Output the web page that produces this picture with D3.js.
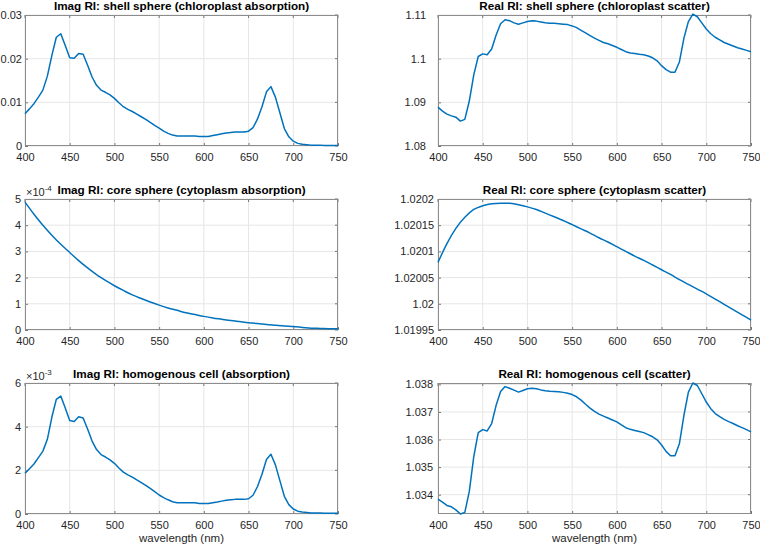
<!DOCTYPE html>
<html>
<head>
<meta charset="utf-8">
<script src="https://cdn.jsdelivr.net/npm/d3@7"></script>
<style>
  body { margin: 0; background: #fff; }
  svg { display: block; font-family: "Liberation Sans", Arial, Helvetica, sans-serif; }
</style>
</head>
<body>
<svg width="760" height="545"></svg>
<script>
// wavelengths (nm)
const wl5 = d3.range(400, 751, 5);
const wl10 = d3.range(400, 751, 10);

// Imag RI shell sphere (chloroplast absorption), every 5 nm
const shellImag = [
  0.0074, 0.0085, 0.0097, 0.0112, 0.0128, 0.0160, 0.0207, 0.0249, 0.0257, 0.0230,
  0.0202, 0.0201, 0.0212, 0.0210, 0.0185, 0.0158, 0.0139, 0.0128, 0.0123, 0.0117,
  0.0109, 0.0099, 0.0090, 0.0084, 0.0079, 0.0073, 0.0067, 0.0061, 0.0054, 0.0047,
  0.0041, 0.0034, 0.0029, 0.0025, 0.0023, 0.0023, 0.0023, 0.0023, 0.0023, 0.0022,
  0.0022, 0.0022, 0.0024, 0.0026, 0.0028, 0.0030, 0.0031, 0.0032, 0.0032, 0.0032,
  0.0034, 0.0042, 0.0062, 0.0090, 0.0124, 0.0136, 0.0112, 0.0076, 0.0040, 0.0021,
  0.0011, 0.0006, 0.0004, 0.0003, 0.0002, 0.0002, 0.0002, 0.0001, 0.0001, 0.0001,
  0.0001
];

// Real RI shell sphere (chloroplast scatter), every 5 nm
const shellReal = [
  1.0889, 1.0880, 1.0873, 1.0869, 1.0866, 1.0857, 1.0861, 1.0903, 1.0963, 1.1005,
  1.1011, 1.1009, 1.1022, 1.1054, 1.1080, 1.1089, 1.1087, 1.1082, 1.1079, 1.1082,
  1.1085, 1.1087, 1.1086, 1.1084, 1.1082, 1.1081, 1.1081, 1.1080, 1.1079, 1.1078,
  1.1075, 1.1071, 1.1065, 1.1059, 1.1053, 1.1047, 1.1042, 1.1037, 1.1034, 1.1030,
  1.1026, 1.1021, 1.1016, 1.1013, 1.1012, 1.1010, 1.1009, 1.1006, 1.1002, 1.0995,
  1.0984, 1.0975, 1.0969, 1.0969, 1.0993, 1.1047, 1.1085, 1.1102, 1.1096, 1.1082,
  1.1068, 1.1057, 1.1049, 1.1043, 1.1037, 1.1033, 1.1029, 1.1025, 1.1022, 1.1019,
  1.1016
];

// Imag RI core sphere (cytoplasm absorption), every 10 nm, x 1e-4
const coreImag = [
  4.88, 4.42, 4.00, 3.62, 3.27, 2.96, 2.65, 2.37, 2.11, 1.89,
  1.69, 1.51, 1.34, 1.20, 1.07, 0.95, 0.84, 0.75, 0.66, 0.59,
  0.52, 0.46, 0.41, 0.36, 0.32, 0.28, 0.25, 0.21, 0.18, 0.15,
  0.13, 0.10, 0.07, 0.06, 0.05, 0.05
];

// Real RI core sphere (cytoplasm scatter), every 10 nm
const coreReal = [
  1.020079, 1.020115, 1.020144, 1.020165, 1.020180, 1.020187, 1.020191, 1.020192, 1.020192, 1.020189,
  1.020185, 1.020180, 1.020173, 1.020166, 1.020159, 1.020151, 1.020143, 1.020135, 1.020126, 1.020118,
  1.020109, 1.020100, 1.020091, 1.020083, 1.020074, 1.020065, 1.020056, 1.020046, 1.020037, 1.020028,
  1.020019, 1.020009, 1.019999, 1.019989, 1.019979, 1.019969
];

// Imag RI homogenous cell (absorption), every 5 nm, x 1e-3
const cellImag = [
  1.87, 2.07, 2.29, 2.58, 2.88, 3.42, 4.43, 5.25, 5.40, 4.85,
  4.28, 4.24, 4.45, 4.40, 3.89, 3.34, 2.95, 2.72, 2.61, 2.48,
  2.32, 2.11, 1.92, 1.79, 1.69, 1.56, 1.44, 1.31, 1.17, 1.02,
  0.87, 0.75, 0.65, 0.56, 0.52, 0.52, 0.51, 0.51, 0.51, 0.48,
  0.48, 0.48, 0.52, 0.55, 0.59, 0.63, 0.65, 0.67, 0.67, 0.67,
  0.70, 0.86, 1.26, 1.82, 2.50, 2.74, 2.25, 1.53, 0.81, 0.43,
  0.23, 0.13, 0.09, 0.07, 0.05, 0.05, 0.045, 0.03, 0.03, 0.03,
  0.03
];

// Real RI homogenous cell (scatter), every 5 nm
const cellReal = [
  1.03384, 1.03373, 1.03361, 1.03356, 1.03345, 1.03330, 1.03336, 1.03412, 1.03538, 1.03625,
  1.03636, 1.03631, 1.03658, 1.03724, 1.03774, 1.03792, 1.03786, 1.03779, 1.03772, 1.03778,
  1.03784, 1.03786, 1.03784, 1.03780, 1.03777, 1.03775, 1.03774, 1.03773, 1.03771, 1.03768,
  1.03763, 1.03755, 1.03743, 1.03728, 1.03714, 1.03702, 1.03692, 1.03685, 1.03678, 1.03671,
  1.03664, 1.03653, 1.03643, 1.03637, 1.03633, 1.03629, 1.03625, 1.03618, 1.03610, 1.03599,
  1.03580, 1.03557, 1.03541, 1.03541, 1.03586, 1.03688, 1.03772, 1.03805, 1.03796, 1.03766,
  1.03736, 1.03712, 1.03694, 1.03683, 1.03673, 1.03665, 1.03658, 1.03650, 1.03643, 1.03636,
  1.03628
];

const xTicks = [400, 450, 500, 550, 600, 650, 700, 750];

const panels = [
  { title: "Imag RI: shell sphere (chloroplast absorption)", x: wl5, y: shellImag,
    domain: [0, 0.03], ticks: [0, 0.01, 0.02, 0.03], fmt: d => d === 0 ? "0" : d3.format(".2f")(d),
    col: 0, row: 0, curve: d3.curveLinear, pad: 3 },
  { title: "Real RI: shell sphere (chloroplast scatter)", x: wl5, y: shellReal,
    domain: [1.08, 1.11], ticks: [1.08, 1.09, 1.1, 1.11], fmt: d => String(+d.toFixed(2)),
    col: 1, row: 0, curve: d3.curveLinear, pad: 12 },
  { title: "Imag RI: core sphere (cytoplasm absorption)", x: wl10, y: coreImag,
    domain: [0, 5], ticks: [0, 1, 2, 3, 4, 5], fmt: d => String(d), exp: "-4",
    col: 0, row: 1, curve: d3.curveMonotoneX, pad: 4 },
  { title: "Real RI: core sphere (cytoplasm scatter)", x: wl10, y: coreReal,
    domain: [1.01995, 1.0202], ticks: [1.01995, 1.02, 1.02005, 1.0201, 1.02015, 1.0202],
    fmt: d => String(+d.toFixed(5)), col: 1, row: 1, curve: d3.curveMonotoneX, pad: 4 },
  { title: "Imag RI: homogenous cell (absorption)", x: wl5, y: cellImag,
    domain: [0, 6], ticks: [0, 2, 4, 6], fmt: d => String(d), exp: "-3",
    col: 0, row: 2, curve: d3.curveLinear, xlabel: true, pad: 4 },
  { title: "Real RI: homogenous cell (scatter)", x: wl5, y: cellReal,
    domain: [1.0333, 1.03805], ticks: [1.034, 1.035, 1.036, 1.037, 1.038],
    fmt: d => String(+d.toFixed(3)), col: 1, row: 2, curve: d3.curveLinear, xlabel: true, pad: 5 }
];

const colLeft = [25, 438];
const rowTop = [15, 199, 383];
const pw = 313, ph = 131;

const svg = d3.select("svg");
const textColor = "#262626";

panels.forEach(p => {
  const left = colLeft[p.col], top = rowTop[p.row];
  const x = d3.scaleLinear().domain([400, 750]).range([left, left + pw]);
  const y = d3.scaleLinear().domain(p.domain).range([top + ph, top]);
  const g = svg.append("g");

  // grid
  g.selectAll(".gx").data(xTicks).join("line")
    .attr("x1", d => x(d)).attr("x2", d => x(d))
    .attr("y1", top).attr("y2", top + ph)
    .attr("stroke", "#e6e6e6").attr("stroke-width", 1);
  g.selectAll(".gy").data(p.ticks).join("line")
    .attr("x1", left).attr("x2", left + pw)
    .attr("y1", d => y(d)).attr("y2", d => y(d))
    .attr("stroke", "#e6e6e6").attr("stroke-width", 1);

  // axes with inward ticks
  const xAxis = d3.axisBottom(x).tickValues(xTicks).tickSize(-3).tickPadding(7).tickFormat(d3.format("d"));
  const yAxis = d3.axisLeft(y).tickValues(p.ticks).tickSize(-3).tickPadding(p.pad).tickFormat(p.fmt);
  const xa = g.append("g").attr("transform", `translate(0,${top + ph})`).call(xAxis);
  const ya = g.append("g").attr("transform", `translate(${left},0)`).call(yAxis);
  [xa, ya].forEach(a => {
    a.select(".domain").remove();
    a.selectAll("line").attr("stroke", "#777");
    a.selectAll("text").attr("fill", textColor).style("font-size", "11px");
  });
  // y labels sit just left of the box (tick lines are inward)
  ya.selectAll("text").attr("x", -p.pad);
  // mirrored ticks on top and right
  g.selectAll(".tt").data(xTicks).join("line")
    .attr("x1", d => x(d)).attr("x2", d => x(d)).attr("y1", top).attr("y2", top + 3)
    .attr("stroke", "#777");
  g.selectAll(".tr").data(p.ticks).join("line")
    .attr("x1", left + pw - 3).attr("x2", left + pw).attr("y1", d => y(d)).attr("y2", d => y(d))
    .attr("stroke", "#777");

  // box
  g.append("rect").attr("x", left + 0.5).attr("y", top + 0.5)
    .attr("width", pw - 1).attr("height", ph - 1)
    .attr("fill", "none").attr("stroke", "#8c8c8c").attr("stroke-width", 1);

  // data line
  const line = d3.line().x((d, i) => x(p.x[i])).y(d => y(d)).curve(p.curve);
  g.append("path").datum(p.y).attr("d", line)
    .attr("fill", "none").attr("stroke", "#0072BD").attr("stroke-width", 1.5)
    .attr("stroke-linejoin", "round");

  // title
  g.append("text").attr("x", left + pw / 2).attr("y", top - 5)
    .attr("text-anchor", "middle").attr("fill", "#000")
    .style("font-size", "11.7px").style("font-weight", "bold")
    .text(p.title);

  // exponent label
  if (p.exp) {
    const t = g.append("text").attr("x", left + 1).attr("y", top - 3)
      .attr("fill", textColor).style("font-size", "11px");
    t.append("tspan").text("\u00d710");
    t.append("tspan").attr("dy", -5).style("font-size", "8px").text(p.exp);
  }

  if (p.xlabel) {
    g.append("text").attr("x", left + pw / 2).attr("y", top + ph + 28)
      .attr("text-anchor", "middle").attr("fill", textColor)
      .style("font-size", "11.5px").text("wavelength (nm)");
  }
});
</script>
</body>
</html>
